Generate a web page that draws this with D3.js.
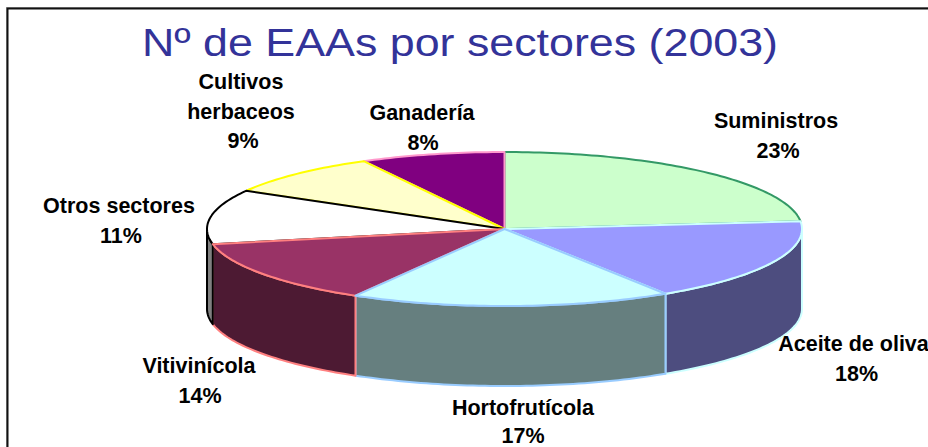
<!DOCTYPE html>
<html><head><meta charset="utf-8">
<style>html,body{margin:0;padding:0;background:#fff}svg{display:block}</style>
<script src="https://cdn.jsdelivr.net/npm/d3@7"></script></head><body>
<script>
const categories=["Suministros","Aceite de oliva","Hortofrutícola","Vitivinícola","Otros sectores","Cultivos herbaceos","Ganadería"];
const values=[23.4,17.5,17.45,13.5,11.4,8.9,7.85];
const topColors=["#CCFFCC","#9999FF","#CCFFFF","#993366","#FFFFFF","#FFFFCC","#800080"];
const sideColors=["#667F66","#4D4D7F","#667F7F","#4D1A33","#808080","#7F7F66","#400040"];
const strokeColors=["#339966","#CCFFFF","#99CCFF","#FF8080","#000000","#FFFF00","#FF99CC"];
const drawOrder=[0,6,5,4,3,1,2];
const labelLines=[["Suministros"],["Aceite de oliva"],["Hortofrutícola"],["Vitivinícola"],["Otros sectores"],["Cultivos","herbaceos"],["Ganadería"]];
const labelAnchors=[[776,128],[853.5,351],[523,415],[199,373],[119,213],[241,89],[422,120]];
const pctOffset=[2,3,0,1,2,2,1];
const lineGap=[29.5,29.5,27.5,29.5,29.5,29.5,29.5];
const titleText="Nº de EAAs por sectores (2003)";

const W=928,H=447,cx=504.5,cy=229,rx=297.5,ry=77,depth=80;
const svg=d3.select("body").append("svg").attr("width",W).attr("height",H);
svg.append("rect").attr("x",6.5).attr("y",7.5).attr("width",W+10).attr("height",H+10).attr("fill","none").attr("stroke","#aaa").attr("stroke-width",1);
svg.append("rect").attr("x",7.5).attr("y",8.5).attr("width",W+10).attr("height",H+10).attr("fill","#fff").attr("stroke","#111").attr("stroke-width",2);
svg.append("text").attr("x",142).attr("y",56).attr("text-anchor","start")
  .attr("font-family","Liberation Sans, Arial, sans-serif").attr("font-size",39.5)
  .attr("textLength",636).attr("lengthAdjust","spacingAndGlyphs").attr("fill","#333399").text(titleText);

const pie=d3.pie().value(d=>d).sort(null);
const arcs=pie(values);
const px=a=>cx+rx*Math.sin(a), py=a=>cy-ry*Math.cos(a);
const edge=(a0,a1)=>{const n=Math.max(2,Math.ceil((a1-a0)/0.02));return d3.range(n+1).map(i=>a0+(a1-a0)*i/n);};
const line=d3.line();
const h=Math.PI/2;
arcs.forEach((d,i)=>{
  const a0=Math.max(d.startAngle,h),a1=Math.min(d.endAngle,3*h);
  if(a1<=a0)return;
  const topPts=edge(a0,a1).map(a=>[px(a),py(a)]);
  const botPts=edge(a0,a1).reverse().map(a=>[px(a),py(a)+depth]);
  svg.append("path").attr("d",line(topPts.concat(botPts))+"Z").attr("fill",sideColors[i]).attr("stroke",strokeColors[i]).attr("stroke-width",2).attr("stroke-linejoin","round");
});
drawOrder.forEach(i=>{
  const d=arcs[i];
  const pts=[[cx,cy]].concat(edge(d.startAngle,d.endAngle).map(a=>[px(a),py(a)]));
  svg.append("path").attr("d",line(pts)+"Z").attr("fill",topColors[i]).attr("stroke",strokeColors[i]).attr("stroke-width",2).attr("stroke-linejoin","round");
});
labelLines.forEach((ls,i)=>{
  const t=svg.append("text").attr("text-anchor","middle").attr("font-family","Liberation Sans, Arial, sans-serif").attr("font-weight","bold").attr("font-size",21.5).attr("fill","#000");
  ls.concat([Math.round(values[i])+"%"]).forEach((s,j)=>t.append("tspan").attr("x",labelAnchors[i][0]+(j===ls.length?pctOffset[i]:0)).attr("y",labelAnchors[i][1]+j*lineGap[i]).text(s));
});
</script></body></html>
